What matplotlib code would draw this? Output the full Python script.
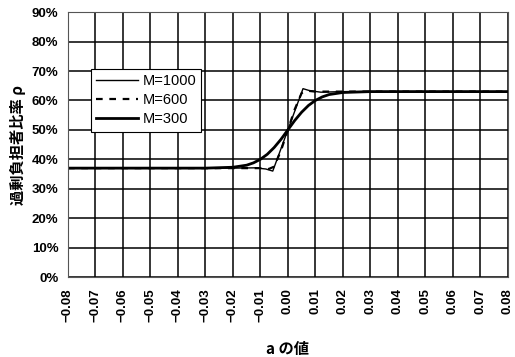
import matplotlib
matplotlib.use("Agg")
import matplotlib.pyplot as plt
from matplotlib.ticker import FuncFormatter, MultipleLocator

plt.rcParams['font.family'] = ['Liberation Sans', 'Noto Sans CJK JP', 'DejaVu Sans']

# M=1000 (thin solid)
x_m1000 = [-0.08, -0.02, -0.012, -0.008, -0.0055, 0.0, 0.0055, 0.008, 0.012, 0.02, 0.08]
y_m1000 = [37.0, 37.0, 37.1, 36.7, 36.0, 50.0, 64.0, 63.3, 62.8, 63.0, 63.0]

# M=600 (dashed)
x_m600 = [-0.08, -0.02, -0.01, -0.007, -0.005, -0.0025, 0.0, 0.0025, 0.005, 0.007, 0.01, 0.02, 0.08]
y_m600 = [37.0, 37.0, 37.0, 36.7, 37.5, 43.0, 50.0, 57.0, 62.5, 63.3, 63.0, 63.0, 63.0]

# M=300 (thick solid)
x_m300 = [-0.08, -0.03, -0.02, -0.015, -0.0125, -0.01, -0.0075, -0.005, -0.0025, 0.0,
          0.0025, 0.005, 0.0075, 0.01, 0.0125, 0.015, 0.02, 0.03, 0.08]
y_m300 = [37.0, 37.0, 37.3, 38.0, 38.8, 40.0, 41.7, 44.0, 46.8, 50.0,
          53.2, 56.0, 58.3, 60.0, 61.2, 62.0, 62.7, 63.0, 63.0]

labels = ['M=1000', 'M=600', 'M=300']

fig = plt.figure(figsize=(5.15, 3.57), dpi=100)
ax = fig.add_axes([0.132, 0.224, 0.854, 0.742])

ax.plot(x_m1000, y_m1000, color='black', lw=1.0, label=labels[0])
ax.plot(x_m600, y_m600, color='black', lw=1.6, ls=(0, (3, 3)), label=labels[1])
ax.plot(x_m300, y_m300, color='black', lw=2.0, label=labels[2])

ax.set_xlim(-0.08, 0.08)
ax.set_ylim(0, 90)
ax.xaxis.set_major_locator(MultipleLocator(0.01))
ax.yaxis.set_major_locator(MultipleLocator(10))
ax.xaxis.set_major_formatter(FuncFormatter(lambda v, p: ('%.2f' % v).replace('-', '−') if abs(v) > 1e-9 else '0.00'))
ax.yaxis.set_major_formatter(FuncFormatter(lambda v, p: '%d%%' % round(v)))
ax.grid(True, color='black', lw=1.1)
ax.set_axisbelow(True)
ax.tick_params(length=0)
ax.tick_params(axis='x', pad=8)
ax.tick_params(axis='y', pad=7)
for lab in ax.get_xticklabels():
    lab.set_rotation(90)
    lab.set_fontweight('bold')
    lab.set_fontsize(9.5)
for lab in ax.get_yticklabels():
    lab.set_fontweight('bold')
    lab.set_fontsize(9.5)
for s in ax.spines.values():
    s.set_color('#555555')
    s.set_linewidth(0.8)

ax.set_xlabel('a の値', fontsize=11, fontweight='bold', labelpad=14,
              family=['Noto Sans CJK JP', 'DejaVu Sans'])
ax.set_ylabel('過剰負担者比率 ρ', fontsize=11, fontweight='bold', labelpad=4,
              family=['Noto Sans CJK JP', 'DejaVu Sans'])

leg = ax.legend(loc='upper left', bbox_to_anchor=(0.052, 0.785), fontsize=10.5,
                frameon=True, fancybox=False, framealpha=1, edgecolor='black',
                handlelength=2.9, borderpad=0.35, labelspacing=0.35, handletextpad=0.3,
                borderaxespad=0)
leg.get_frame().set_linewidth(0.8)

fig.savefig('out.png', dpi=100)
